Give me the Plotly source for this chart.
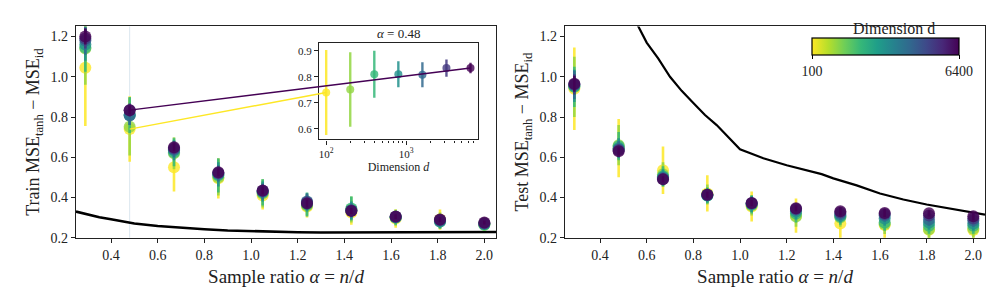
import math
import plotly.graph_objects as go
from plotly.colors import sample_colorscale

# ---------------- data ----------------
alphas = [0.29, 0.48, 0.67, 0.86, 1.05, 1.24, 1.43, 1.62, 1.81, 2.0]
dims = [100, 200, 400, 800, 1600, 3200, 6400]
alpha_zoom = 0.48

train_mean = [
    [1.045, 0.74, 0.55, 0.495, 0.41, 0.355, 0.325, 0.295, 0.29, 0.27],
    [1.14, 0.752, 0.62, 0.50, 0.42, 0.36, 0.34, 0.30, 0.285, 0.265],
    [1.145, 0.81, 0.625, 0.51, 0.425, 0.365, 0.345, 0.30, 0.28, 0.265],
    [1.16, 0.81, 0.635, 0.515, 0.43, 0.375, 0.335, 0.302, 0.28, 0.268],
    [1.18, 0.808, 0.64, 0.52, 0.43, 0.38, 0.335, 0.303, 0.285, 0.27],
    [1.19, 0.834, 0.645, 0.522, 0.433, 0.375, 0.335, 0.304, 0.288, 0.272],
    [1.20, 0.834, 0.65, 0.525, 0.435, 0.37, 0.333, 0.305, 0.29, 0.276],
]
train_err = [
    [0.29, 0.163, 0.12, 0.10, 0.07, 0.055, 0.06, 0.045, 0.05, 0.03],
    [0.18, 0.143, 0.08, 0.09, 0.07, 0.05, 0.065, 0.04, 0.04, 0.03],
    [0.12, 0.09, 0.07, 0.085, 0.065, 0.06, 0.06, 0.035, 0.035, 0.025],
    [0.08, 0.05, 0.05, 0.06, 0.05, 0.045, 0.045, 0.03, 0.03, 0.02],
    [0.07, 0.048, 0.04, 0.04, 0.04, 0.04, 0.035, 0.025, 0.025, 0.015],
    [0.05, 0.033, 0.03, 0.03, 0.03, 0.03, 0.025, 0.02, 0.015, 0.012],
    [0.04, 0.02, 0.02, 0.02, 0.02, 0.02, 0.015, 0.012, 0.012, 0.01],
]
test_mean = [
    [0.94, 0.645, 0.535, 0.42, 0.355, 0.31, 0.27, 0.263, 0.24, 0.238],
    [0.95, 0.66, 0.515, 0.415, 0.36, 0.305, 0.30, 0.268, 0.242, 0.245],
    [0.95, 0.655, 0.505, 0.41, 0.365, 0.32, 0.305, 0.275, 0.26, 0.26],
    [0.955, 0.645, 0.50, 0.41, 0.368, 0.33, 0.31, 0.295, 0.275, 0.27],
    [0.96, 0.64, 0.495, 0.412, 0.37, 0.34, 0.318, 0.31, 0.29, 0.285],
    [0.962, 0.635, 0.492, 0.413, 0.371, 0.343, 0.325, 0.318, 0.31, 0.295],
    [0.965, 0.63, 0.49, 0.414, 0.372, 0.346, 0.331, 0.323, 0.321, 0.307],
]
test_err = [
    [0.205, 0.145, 0.118, 0.09, 0.075, 0.085, 0.08, 0.07, 0.06, 0.06],
    [0.15, 0.10, 0.06, 0.05, 0.05, 0.05, 0.045, 0.05, 0.045, 0.045],
    [0.10, 0.07, 0.05, 0.04, 0.045, 0.045, 0.04, 0.04, 0.04, 0.04],
    [0.08, 0.05, 0.04, 0.035, 0.04, 0.04, 0.035, 0.035, 0.035, 0.035],
    [0.07, 0.04, 0.03, 0.025, 0.03, 0.03, 0.03, 0.03, 0.03, 0.03],
    [0.05, 0.03, 0.02, 0.02, 0.02, 0.02, 0.025, 0.025, 0.02, 0.025],
    [0.04, 0.02, 0.015, 0.015, 0.015, 0.015, 0.02, 0.02, 0.015, 0.02],
]

theory_alpha_train = [0.25, 0.3, 0.35, 0.4, 0.45, 0.5, 0.6, 0.7, 0.8, 0.9, 1.0, 1.1,
                      1.2, 1.3, 1.4, 1.5, 1.6, 1.7, 1.8, 1.9, 2.0, 2.05]
theory_train = [0.330, 0.315, 0.302, 0.292, 0.280, 0.271, 0.258, 0.249, 0.242, 0.236,
                0.232, 0.229, 0.227, 0.226, 0.226, 0.226, 0.226, 0.227, 0.227, 0.227,
                0.228, 0.228]
theory_alpha_test = [0.55, 0.56, 0.6, 0.65, 0.7, 0.75, 0.8, 0.85, 0.9, 0.95, 1.0, 1.05,
                     1.1, 1.2, 1.3, 1.35, 1.4, 1.5, 1.6, 1.7, 1.8, 1.9, 2.0, 2.05]
theory_test = [1.29, 1.26, 1.17, 1.09, 1.00, 0.93, 0.87, 0.81, 0.76, 0.70, 0.64, 0.617,
               0.595, 0.56, 0.53, 0.516, 0.495, 0.46, 0.42, 0.39, 0.365, 0.345, 0.327,
               0.315]

x_ticks = [0.4, 0.6, 0.8, 1.0, 1.2, 1.4, 1.6, 1.8, 2.0]
y_ticks = [0.2, 0.4, 0.6, 0.8, 1.0, 1.2]
inset_y_ticks = [0.6, 0.7, 0.8, 0.9]

# ---------------- layout geometry ----------------
W, H = 996, 300
FONT = "Liberation Serif"
XR = [0.25, 2.05]
YR = [0.2, 1.25]
LDOM = [68 / W, 488 / W]
RDOM = [557 / W, 977 / W]
YDOM = [1 - 236 / H, 1 - 19 / H]
IXDOM = [311 / W, 470 / W]
IYDOM = [1 - 135 / H, 1 - 36 / H]
IXR = [1.91, 3.90]
IYR = [0.56, 0.93]
CB_LEFT, CB_LEN, CB_TOP, CB_THICK = 812, 147, 37, 17

cols = sample_colorscale("Viridis_r", [i / (len(dims) - 1) for i in range(len(dims))])


def rgba(c, a):
    c = c.strip()
    if c.startswith("rgb"):
        v = c[c.index("(") + 1:c.index(")")].split(",")
        return f"rgba({v[0]},{v[1]},{v[2]},{a})"
    h = c.lstrip("#")
    return f"rgba({int(h[0:2],16)},{int(h[2:4],16)},{int(h[4:6],16)},{a})"


fig = go.Figure()

# vertical marker line in left panel
fig.add_shape(type="line", xref="x", yref="paper", x0=alpha_zoom, x1=alpha_zoom,
              y0=YDOM[0], y1=YDOM[1], line=dict(color="#dbe6ef", width=1), layer="below")

# theory curves
fig.add_trace(go.Scatter(x=theory_alpha_train, y=theory_train, mode="lines",
                         line=dict(color="black", width=2.6), xaxis="x", yaxis="y",
                         showlegend=False, hoverinfo="skip"))
fig.add_trace(go.Scatter(x=theory_alpha_test, y=theory_test, mode="lines",
                         line=dict(color="black", width=2.2), xaxis="x2", yaxis="y2",
                         showlegend=False, hoverinfo="skip"))

for i, d in enumerate(dims):
    c = cols[i]
    fig.add_trace(go.Scatter(
        x=alphas, y=train_mean[i], mode="markers", xaxis="x", yaxis="y",
        marker=dict(size=12, color=rgba(c, 0.8), line=dict(width=0)),
        error_y=dict(type="data", array=train_err[i], color=rgba(c, 0.85), thickness=2.6, width=0),
        showlegend=False))
    fig.add_trace(go.Scatter(
        x=alphas, y=test_mean[i], mode="markers", xaxis="x2", yaxis="y2",
        marker=dict(size=12, color=rgba(c, 0.8), line=dict(width=0)),
        error_y=dict(type="data", array=test_err[i], color=rgba(c, 0.85), thickness=2.6, width=0),
        showlegend=False))

# inset: alpha = 0.48 column vs dimension
iz = alphas.index(alpha_zoom)
for i, d in enumerate(dims):
    c = cols[i]
    fig.add_trace(go.Scatter(
        x=[d], y=[train_mean[i][iz]], mode="markers", xaxis="x3", yaxis="y3",
        marker=dict(size=8, color=rgba(c, 0.8), line=dict(width=0)),
        error_y=dict(type="data", array=[train_err[i][iz]], color=rgba(c, 0.85), thickness=2.4, width=0),
        showlegend=False))


# connector lines (main-axes point -> inset point), converted to paper coordinates
def main_to_paper(a, v):
    px = LDOM[0] + (a - XR[0]) / (XR[1] - XR[0]) * (LDOM[1] - LDOM[0])
    py = YDOM[0] + (v - YR[0]) / (YR[1] - YR[0]) * (YDOM[1] - YDOM[0])
    return px, py


def inset_to_paper(d, v):
    px = IXDOM[0] + (math.log10(d) - IXR[0]) / (IXR[1] - IXR[0]) * (IXDOM[1] - IXDOM[0])
    py = IYDOM[0] + (v - IYR[0]) / (IYR[1] - IYR[0]) * (IYDOM[1] - IYDOM[0])
    return px, py


for idx in (len(dims) - 1, 0):
    v = train_mean[idx][iz]
    x0, y0 = main_to_paper(alpha_zoom, v)
    x1, y1 = inset_to_paper(dims[idx], v)
    lc = "#fde725" if idx == 0 else cols[idx]
    fig.add_shape(type="line", xref="paper", yref="paper", x0=x0, y0=y0, x1=x1, y1=y1,
                  line=dict(color=lc, width=1.4), layer="above")

# colorbar (dummy trace)
fig.add_trace(go.Scatter(
    x=[None], y=[None], mode="markers", xaxis="x2", yaxis="y2", showlegend=False,
    marker=dict(color=[dims[0], dims[-1]], colorscale="Viridis_r", cmin=dims[0], cmax=dims[-1],
                showscale=True,
                colorbar=dict(orientation="h", x=(CB_LEFT - 8) / W, xanchor="left",
                              y=1 - (CB_TOP + CB_THICK + 20) / H,
                              yanchor="bottom", lenmode="pixels", len=CB_LEN, thickness=CB_THICK,
                              xpad=0, ypad=0, outlinecolor="black", outlinewidth=1.2,
                              tickvals=[dims[0], dims[-1]], ticktext=["100", "6400"],
                              ticks="outside", ticklen=4, tickcolor="black",
                              tickfont=dict(family=FONT, size=14, color="#222"))))
)

axis_common = dict(showline=True, linecolor="#222", linewidth=1.3, mirror=True,
                   ticks="outside", ticklen=4, tickcolor="#222", tickwidth=1,
                   showgrid=False, zeroline=False,
                   tickfont=dict(family=FONT, size=14, color="#222"))

xtitle = "Sample ratio <i>α</i> = <i>n</i>/<i>d</i>"
fig.update_layout(
    width=W, height=H, margin=dict(l=0, r=0, t=0, b=0),
    paper_bgcolor="white", plot_bgcolor="white", showlegend=False,
    font=dict(family=FONT, color="#222"),
    xaxis=dict(domain=LDOM, range=XR, tickvals=x_ticks, anchor="y", tickformat=".1f",
               title=dict(text=xtitle, font=dict(family=FONT, size=19), standoff=8), **axis_common),
    yaxis=dict(domain=YDOM, range=YR, tickvals=y_ticks, anchor="x",
               tickformat=".1f",
               title=dict(text="Train MSE<sub>tanh</sub> − MSE<sub>id</sub>",
                          font=dict(family=FONT, size=18), standoff=6), **axis_common),
    xaxis2=dict(domain=RDOM, range=XR, tickvals=x_ticks, anchor="y2", tickformat=".1f",
                title=dict(text=xtitle, font=dict(family=FONT, size=19), standoff=8), **axis_common),
    yaxis2=dict(domain=YDOM, range=YR, tickvals=y_ticks, anchor="x2",
                tickformat=".1f",
                title=dict(text="Test MSE<sub>tanh</sub> − MSE<sub>id</sub>",
                           font=dict(family=FONT, size=18), standoff=6), **axis_common),
    xaxis3=dict(domain=IXDOM, type="log", range=IXR, anchor="y3",
                tickvals=[100, 1000], ticktext=["10<sup>2</sup>", "10<sup>3</sup>"],
                minor=dict(tickvals=[200, 300, 400, 500, 600, 700, 800, 900, 2000, 3000, 4000,
                                     5000, 6000, 7000], ticks="outside", ticklen=2.5,
                           tickcolor="#222"),
                title=dict(text="Dimension <i>d</i>", font=dict(family=FONT, size=12), standoff=2),
                showline=True, linecolor="#222", linewidth=1.2, mirror=True,
                ticks="outside", ticklen=4, tickcolor="#222", showgrid=False, zeroline=False,
                tickfont=dict(family=FONT, size=11, color="#222")),
    yaxis3=dict(domain=IYDOM, range=IYR, anchor="x3", tickvals=inset_y_ticks, tickformat=".1f",
                showline=True, linecolor="#222", linewidth=1.2, mirror=True,
                ticks="outside", ticklen=4, tickcolor="#222", showgrid=False, zeroline=False,
                tickfont=dict(family=FONT, size=11, color="#222")),
    annotations=[
        dict(text=f"<i>α</i> = {alpha_zoom}", xref="paper", yref="paper",
             x=(IXDOM[0] + IXDOM[1]) / 2, y=IYDOM[1], xanchor="center", yanchor="bottom",
             showarrow=False, font=dict(family=FONT, size=13, color="#222")),
        dict(text="Dimension d", xref="paper", yref="paper",
             x=(CB_LEFT + CB_LEN / 2) / W, y=1 - 32 / H, xanchor="center",
             yanchor="bottom", showarrow=False, font=dict(family=FONT, size=16, color="#222")),
    ],
)

fig.write_html("out.html")
